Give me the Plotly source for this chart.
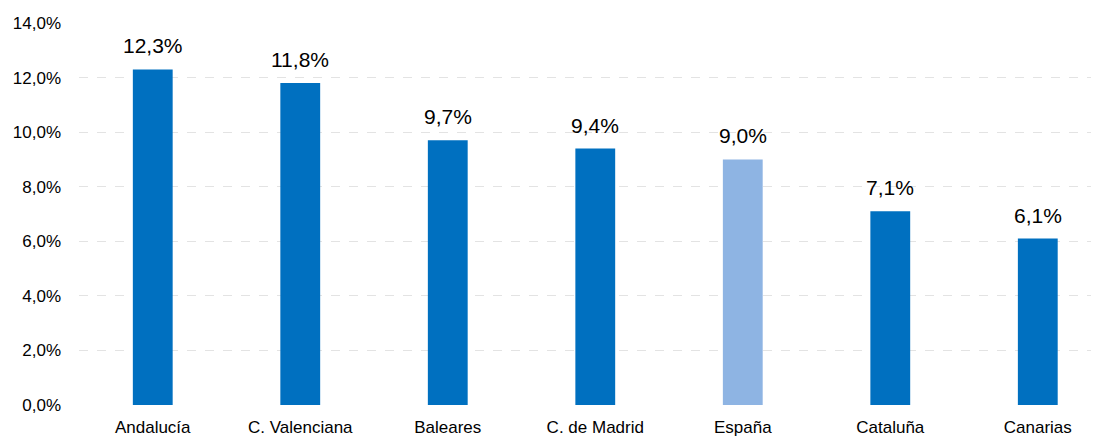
import plotly.graph_objects as go

categories = ["Andalucía", "C. Valenciana", "Baleares", "C. de Madrid", "España", "Cataluña", "Canarias"]
values = [12.3, 11.8, 9.7, 9.4, 9.0, 7.1, 6.1]
colors = ["#0070C0", "#0070C0", "#0070C0", "#0070C0", "#8EB4E3", "#0070C0", "#0070C0"]
tick_vals = [0, 2, 4, 6, 8, 10, 12, 14]
tick_text = [f"{v:.1f}%".replace(".", ",") for v in tick_vals]
labels = [f"{v:.1f}%".replace(".", ",") for v in values]

font_family = "Liberation Sans, Arial"

fig = go.Figure(go.Bar(
    x=list(range(len(categories))), y=values,
    marker=dict(color=colors, line=dict(width=0)),
    width=0.27,
    hoverinfo="skip",
))

for i, (v, t) in enumerate(zip(values, labels)):
    fig.add_annotation(
        x=i, y=v, text=t, showarrow=False, yanchor="bottom", yshift=10,
        font=dict(size=21, color="#000000", family=font_family),
    )

fig.update_layout(
    width=1091, height=430,
    margin=dict(l=71, r=0, t=15, b=33, autoexpand=False),
    plot_bgcolor="white", paper_bgcolor="white",
    showlegend=False,
    font=dict(family=font_family, color="#000000"),
    xaxis=dict(
        tickmode="array", tickvals=list(range(len(categories))), ticktext=categories,
        range=[-0.5, 6.415], showgrid=False, zeroline=False, showline=False,
        tickfont=dict(size=17, family=font_family), ticks="", ticklabelstandoff=10,
        automargin=False,
    ),
    yaxis=dict(
        range=[0, 14], tickmode="array", tickvals=tick_vals, ticktext=tick_text,
        showgrid=True, gridcolor="#E3E3E3", griddash="dash", gridwidth=1,
        zeroline=False, showline=False,
        tickfont=dict(size=17, family=font_family), ticks="", ticklabelstandoff=17,
        automargin=False,
    ),
)

fig.write_html("out.html")
